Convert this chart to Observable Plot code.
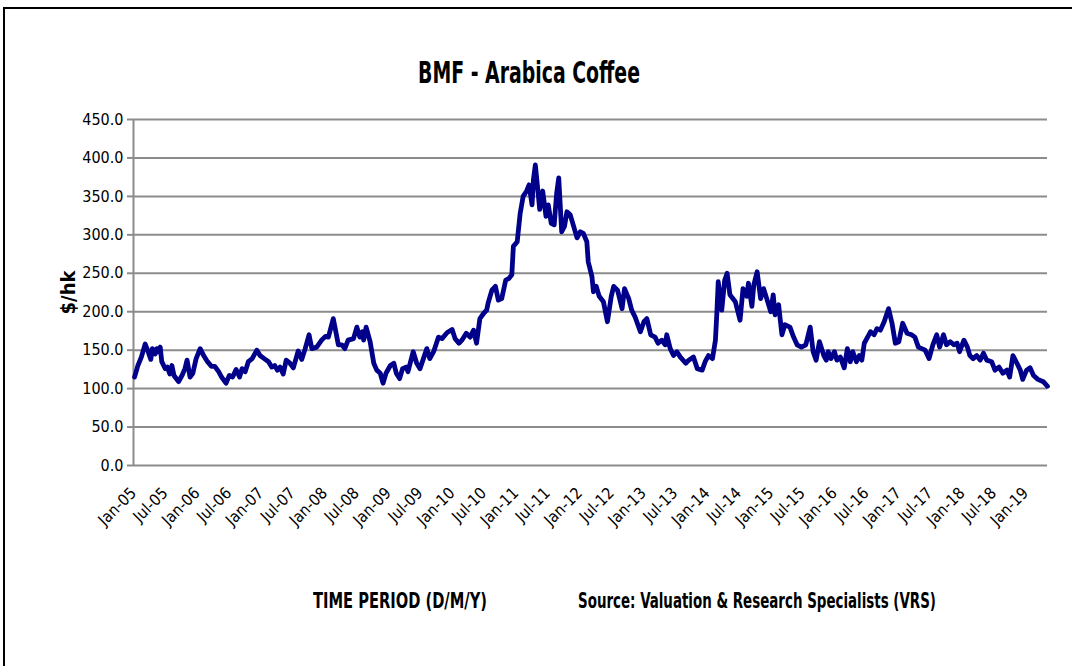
<!DOCTYPE html>
<html>
<head>
<meta charset="utf-8">
<script src="https://cdn.jsdelivr.net/npm/d3@7"></script>
<script src="https://cdn.jsdelivr.net/npm/@observablehq/plot@0.6"></script>
<style>
  html, body { margin: 0; padding: 0; background: #fff; }
  #page { position: relative; width: 1075px; height: 666px; overflow: hidden; background: #fff;
          font-family: "DejaVu Sans Condensed", "Liberation Sans", sans-serif; }
  .bt { position: absolute; background: #000; }
  #title { position: absolute; left: 418px; top: 54px; font-size: 31px; font-weight: bold; color: #000;
           white-space: nowrap; transform-origin: 0 0; }
  #chart { position: absolute; left: 0; top: 0; }
  .foot { position: absolute; top: 589px; font-size: 21px; font-weight: bold; color: #000; white-space: nowrap;
          transform-origin: 0 0; }
</style>
</head>
<body>
<div id="page">
  <div class="bt" style="left:3px; top:7px; width:1069px; height:2px;"></div>
  <div class="bt" style="left:3px; top:7px; width:2px; height:659px;"></div>
  <div id="chart"></div>
  <div id="title" data-w="222">BMF - Arabica Coffee</div>
  <div class="foot" data-w="174" style="left:313px;">TIME PERIOD (D/M/Y)</div>
  <div class="foot" data-w="358" style="left:578px;">Source: Valuation &amp; Research Specialists (VRS)</div>
</div>
<script>
const dates = [
"2005-01-07","2005-01-26","2005-02-15","2005-03-09","2005-03-26","2005-04-10","2005-04-19","2005-05-05","2005-05-14","2005-05-23",
"2005-06-03","2005-06-12","2005-07-02","2005-07-14","2005-07-28","2005-08-09","2005-08-21","2005-09-16","2005-10-06","2005-10-23",
"2005-11-04","2005-11-21","2005-12-07","2005-12-26","2006-01-18","2006-02-07","2006-03-01","2006-03-24","2006-04-12","2006-05-04",
"2006-05-21","2006-06-15","2006-07-04","2006-07-23","2006-08-12","2006-09-01","2006-09-15","2006-10-03","2006-10-21","2006-11-12",
"2006-12-09","2006-12-27","2007-01-20","2007-02-14","2007-03-04","2007-03-21","2007-04-06","2007-04-21","2007-05-09","2007-05-26",
"2007-06-17","2007-07-06","2007-08-03","2007-08-23","2007-09-12","2007-10-04","2007-10-20","2007-11-17","2007-12-15","2008-01-06",
"2008-01-23","2008-02-20","2008-03-20","2008-04-09","2008-04-26","2008-05-15","2008-06-15","2008-07-04","2008-07-21","2008-08-04",
"2008-08-12","2008-08-26","2008-09-18","2008-10-09","2008-10-26","2008-11-15","2008-12-01","2008-12-18","2009-01-12","2009-02-01",
"2009-02-15","2009-03-06","2009-03-23","2009-04-12","2009-04-23","2009-05-23","2009-06-12","2009-07-01","2009-08-09","2009-08-26",
"2009-09-17","2009-10-15","2009-11-04","2009-12-04","2010-01-01","2010-01-18","2010-02-09","2010-02-26","2010-03-23","2010-04-14",
"2010-05-04","2010-05-21","2010-06-09","2010-07-01","2010-07-18","2010-07-26","2010-08-17","2010-09-06","2010-09-23","2010-10-12",
"2010-11-04","2010-11-21","2010-12-09","2010-12-18","2011-01-09","2011-01-26","2011-02-12","2011-03-04","2011-03-18","2011-04-04",
"2011-04-12","2011-04-23","2011-05-09","2011-05-18","2011-06-04","2011-06-23","2011-07-06","2011-07-23","2011-08-09","2011-08-23",
"2011-09-04","2011-09-21","2011-10-07","2011-10-21","2011-11-09","2011-11-26","2011-12-18","2012-01-06","2012-01-23","2012-02-12",
"2012-02-20","2012-03-12","2012-03-21","2012-04-06","2012-04-23","2012-05-17","2012-06-09","2012-07-01","2012-07-15","2012-08-06",
"2012-09-01","2012-09-15","2012-10-09","2012-10-26","2012-11-15","2012-12-15","2013-01-04","2013-01-21","2013-02-12","2013-03-09",
"2013-03-26","2013-04-17","2013-05-06","2013-05-15","2013-06-04","2013-06-23","2013-07-12","2013-08-01","2013-09-01","2013-09-18",
"2013-10-15","2013-11-06","2013-12-04","2013-12-21","2014-01-09","2014-02-01","2014-02-18","2014-02-26","2014-03-06","2014-03-26",
"2014-04-12","2014-04-26","2014-05-12","2014-06-12","2014-07-09","2014-07-26","2014-08-17","2014-08-26","2014-09-15","2014-09-26",
"2014-10-15","2014-11-04","2014-11-21","2014-12-09","2015-01-01","2015-01-15","2015-01-26","2015-02-15","2015-03-06","2015-03-23",
"2015-04-21","2015-05-12","2015-06-01","2015-06-26","2015-07-21","2015-08-15","2015-09-01","2015-09-18","2015-10-07","2015-11-01",
"2015-11-15","2015-11-26","2015-12-12","2016-01-01","2016-01-15","2016-02-04","2016-02-26","2016-03-15","2016-04-01","2016-04-15",
"2016-05-06","2016-05-23","2016-06-06","2016-06-20","2016-07-09","2016-07-26","2016-08-15","2016-09-01","2016-09-20","2016-10-12",
"2016-11-06","2016-11-26","2016-12-15","2017-01-04","2017-01-26","2017-02-20","2017-03-18","2017-04-06","2017-04-26","2017-05-15",
"2017-06-04","2017-06-26","2017-07-18","2017-08-09","2017-08-26","2017-09-17","2017-10-04","2017-10-26","2017-11-15","2017-12-04",
"2017-12-18","2018-01-12","2018-02-01","2018-02-15","2018-03-06","2018-03-26","2018-04-15","2018-05-04","2018-05-23","2018-06-20",
"2018-07-09","2018-08-01","2018-08-23","2018-09-15","2018-10-01","2018-10-20","2018-11-12","2018-12-01","2018-12-15","2019-01-06",
"2019-01-26","2019-02-15","2019-03-12","2019-04-12","2019-05-06"
];
const prices = [
115,130,141,158,148,138,152,145,152,148,
154,135,126,128,119,130,117,109,117,126,
137,115,120,139,152,143,135,129,129,122,
115,107,117,115,125,115,126,122,135,139,
150,143,139,135,128,130,124,128,119,137,
133,127,149,138,152,170,152,154,163,168,
167,191,157,157,152,163,165,180,167,174,
163,180,161,133,124,120,107,120,130,133,
120,113,126,128,122,148,133,126,152,139,
148,167,165,173,177,165,159,163,172,167,
176,159,191,198,202,211,228,233,215,217,
241,243,248,285,291,328,350,357,365,339,
372,391,354,333,357,324,339,315,313,354,
374,304,311,330,326,313,296,304,302,291,
265,246,226,233,220,213,187,220,233,228,
204,230,217,202,193,174,187,191,170,167,
159,163,157,170,152,143,148,141,133,137,
141,126,124,135,143,139,163,198,239,202,
241,250,222,213,189,230,220,237,207,235,
252,217,230,217,200,222,196,209,170,183,
180,167,157,154,157,180,148,137,161,143,
137,148,139,148,137,141,127,152,135,148,
135,143,137,159,167,174,170,178,176,187,
204,185,159,161,185,172,170,167,154,152,
150,139,157,170,154,170,157,161,157,159,
148,163,154,143,139,143,137,146,137,135,
124,128,120,124,115,143,133,124,112,124,
127,117,112,109,103
];
const tickDates = ["2005-01-01","2005-07-01","2006-01-01","2006-07-01","2007-01-01","2007-07-01","2008-01-01","2008-07-01",
"2009-01-01","2009-07-01","2010-01-01","2010-07-01","2011-01-01","2011-07-01","2012-01-01","2012-07-01","2013-01-01","2013-07-01",
"2014-01-01","2014-07-01","2015-01-01","2015-07-01","2016-01-01","2016-07-01","2017-01-01","2017-07-01","2018-01-01","2018-07-01","2019-01-01"];
const yTicks = [0, 50, 100, 150, 200, 250, 300, 350, 400, 450];
const xStart = "2005-01-01";
const xEnd = "2019-05-06";

const data = dates.map((d, i) => ({date: new Date(d), price: prices[i]}));
const fmt = d3.utcFormat("%b-%y");
const grid = "#8c8c8c";

const chart = Plot.plot({
  width: 1075,
  height: 540,
  marginTop: 119,
  marginLeft: 133,
  marginRight: 28,
  marginBottom: 75,
  style: {fontFamily: '"DejaVu Sans Condensed", sans-serif', background: "transparent", color: "#000"},
  x: {type: "utc", domain: [new Date(xStart), new Date(xEnd)]},
  y: {domain: [0, 450]},
  marks: [
    Plot.ruleY(yTicks, {stroke: grid, strokeWidth: 2}),
    Plot.ruleX([new Date(xStart)], {stroke: grid, strokeWidth: 2}),
    Plot.axisY(yTicks, {tickFormat: d => d.toFixed(1), tickSize: 6, tickPadding: 4, stroke: grid, strokeWidth: 2, fontSize: 16, label: null}),
    Plot.axisX(tickDates.map(d => new Date(d)), {tickFormat: fmt, tickSize: 0, tickRotate: -45, tickPadding: 25, fontSize: 16, label: null}),
    Plot.text(["$/hk"], {frameAnchor: "left", textAnchor: "middle", dx: -65, rotate: -90, fontSize: 20, fontWeight: "bold"}),
    Plot.lineY(data, {x: "date", y: "price", stroke: "#00008b", strokeWidth: 4.8, strokeLinejoin: "round"})
  ]
});
document.getElementById("chart").appendChild(chart);

// fit the HTML captions to the widths measured on the reference
document.querySelectorAll("[data-w]").forEach(el => {
  const w = el.getBoundingClientRect().width;
  el.style.transform = `scaleX(${(+el.dataset.w) / w})`;
});
</script>
</body>
</html>
